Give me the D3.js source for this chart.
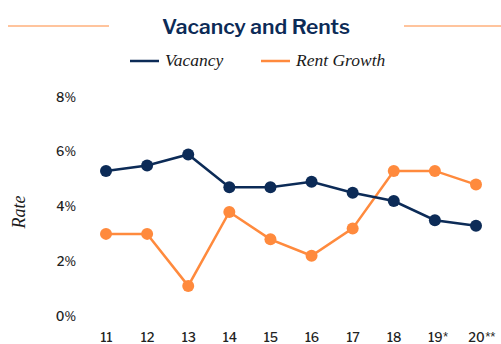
<!DOCTYPE html>
<html>
<head>
<meta charset="utf-8">
<script src="https://cdn.jsdelivr.net/npm/d3@7"></script>
<style>
  html, body { margin: 0; padding: 0; background: #fff; }
  svg { display: block; }
</style>
</head>
<body>
<svg id="chart" width="501" height="344"></svg>
<script>
// Years on the x axis ('11 through '20)
const years = ["11", "12", "13", "14", "15", "16", "17", "18", "19", "20"];
const yearMarks = ["", "", "", "", "", "", "", "", "*", "**"];
// Rates in percent
const vacancy = [5.3, 5.5, 5.9, 4.7, 4.7, 4.9, 4.5, 4.2, 3.5, 3.3];
const rentGrowth = [3.0, 3.0, 1.1, 3.8, 2.8, 2.2, 3.2, 5.3, 5.3, 4.8];
const yTicks = [0, 2, 4, 6, 8];

const navy = "#0c2b57";
const orange = "#ff8a3d";
const sans = "'Libre Franklin', Roboto, 'Open Sans', sans-serif";
const serif = "'Liberation Serif', 'DejaVu Serif', serif";

const svg = d3.select("#chart");

const x = d3.scalePoint().domain(years).range([106, 476]);
const y = d3.scaleLinear().domain([0, 8]).range([316, 97]);

// Title with orange rules on either side
svg.append("text")
  .attr("x", 256).attr("y", 34)
  .attr("text-anchor", "middle")
  .attr("font-family", "'Libre Franklin', 'Open Sans', Roboto, sans-serif")
  .attr("font-weight", 600)
  .attr("font-size", 21)
  .attr("fill", navy)
  .text("Vacancy and Rents");
svg.append("line").attr("x1", 8).attr("x2", 109).attr("y1", 26).attr("y2", 26)
  .attr("stroke", orange).attr("stroke-width", 1.2);
svg.append("line").attr("x1", 404).attr("x2", 501).attr("y1", 26).attr("y2", 26)
  .attr("stroke", orange).attr("stroke-width", 1.2);

// Legend
const legend = [
  { name: "Vacancy", color: navy, x: 130 },
  { name: "Rent Growth", color: orange, x: 261 }
];
legend.forEach(d => {
  svg.append("line").attr("x1", d.x).attr("x2", d.x + 29).attr("y1", 61).attr("y2", 61)
    .attr("stroke", d.color).attr("stroke-width", 2.5);
  svg.append("text")
    .attr("x", d.x + 35).attr("y", 66)
    .attr("font-family", serif)
    .attr("font-style", "italic")
    .attr("font-size", 17.5)
    .attr("fill", "#1a1a1a")
    .text(d.name);
});

// Y axis (labels only)
const yAxis = d3.axisLeft(y).tickValues(yTicks).tickFormat(d => d + "%").tickSize(0).tickPadding(0);
const yg = svg.append("g").attr("transform", "translate(76,0)").call(yAxis);
yg.select(".domain").remove();
yg.selectAll("text")
  .attr("font-family", sans)
  .attr("font-size", 12.5)
  .attr("font-weight", 500)
  .attr("fill", "#222");

// Y axis title
svg.append("text")
  .attr("transform", "translate(25,212) rotate(-90)")
  .attr("text-anchor", "middle")
  .attr("font-family", serif)
  .attr("font-style", "italic")
  .attr("font-size", 18)
  .attr("fill", "#1a1a1a")
  .text("Rate");

// X axis (labels only)
const xAxis = d3.axisBottom(x).tickSize(0).tickPadding(0);
const xg = svg.append("g").attr("transform", "translate(0,330)").call(xAxis);
xg.select(".domain").remove();
xg.selectAll("text")
  .attr("font-family", sans)
  .attr("font-size", 12.5)
  .attr("font-weight", 500)
  .attr("fill", "#222")
  .attr("dy", 0)
  .attr("y", 12);
// Forecast markers placed right after the year digits
xg.selectAll(".tick").each(function(yr) {
  const i = years.indexOf(yr);
  if (!yearMarks[i]) return;
  const t = d3.select(this).select("text");
  const w = t.node().getComputedTextLength();
  d3.select(this).append("text")
    .attr("x", w / 2 + 0.5).attr("y", 12)
    .attr("text-anchor", "start")
    .attr("font-family", sans)
    .attr("font-size", 12.5)
    .attr("font-weight", 500)
    .attr("fill", "#222")
    .text(yearMarks[i]);
});

// Series lines and markers
const series = [
  { values: rentGrowth, color: orange },
  { values: vacancy, color: navy }
];
const line = d3.line().x((d, i) => x(years[i])).y(d => y(d));
series.forEach(s => {
  svg.append("path")
    .datum(s.values)
    .attr("d", line)
    .attr("fill", "none")
    .attr("stroke", s.color)
    .attr("stroke-width", 2.5);
  svg.append("g").selectAll("circle")
    .data(s.values)
    .join("circle")
    .attr("cx", (d, i) => x(years[i]))
    .attr("cy", d => y(d))
    .attr("r", 6)
    .attr("fill", s.color);
});
</script>
</body>
</html>
